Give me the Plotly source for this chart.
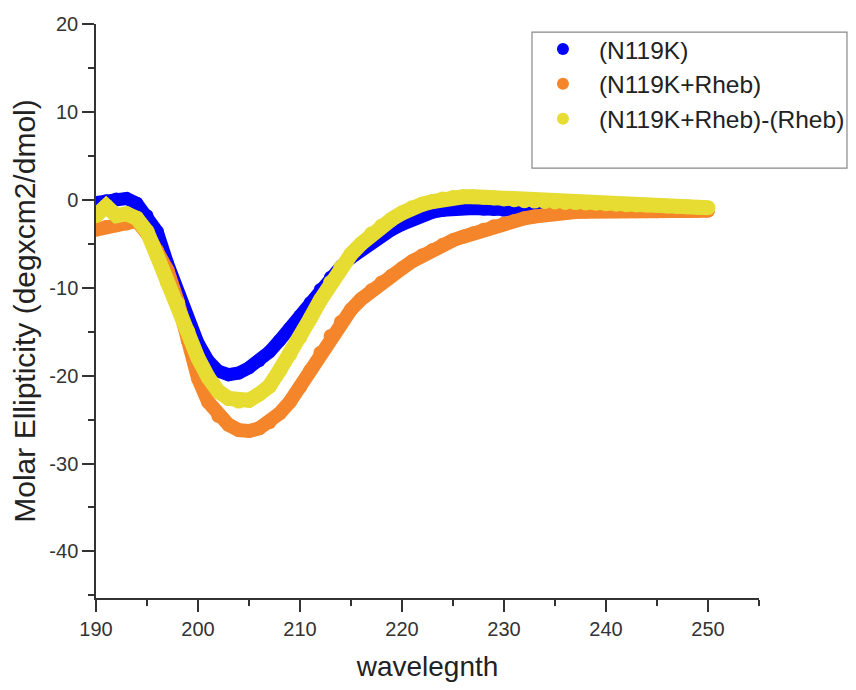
import plotly.graph_objects as go

wavelength = list(range(190, 251))

n119k = [-0.3, -0.1, 0.1, 0.15, -0.4, -1.8, -3.6, -7.2, -10.6, -13.6,
         -16.3, -18.3, -19.5, -19.9, -19.7, -19.1, -18.3, -17.3, -16.0, -14.6,
         -13.2, -11.7, -10.2, -8.8, -7.6, -6.6, -5.7, -4.8, -4.1, -3.4,
         -2.8, -2.2, -1.7, -1.4, -1.2, -1.05, -1.0, -1.0, -1.05, -1.1,
         -1.2, -1.25, -1.3, -1.3, -1.3, -1.3, -1.3, -1.25, -1.25, -1.2,
         -1.2, -1.2, -1.15, -1.15, -1.1, -1.1, -1.1, -1.05, -1.05, -1.0,
         -1.0]

n119k_rheb = [-3.4, -3.1, -2.9, -2.7, -2.4, -3.8, -5.8, -8.0, -11.5, -16.0,
              -20.3, -23.0, -24.6, -25.6, -26.2, -26.3, -26.0, -25.3, -24.3, -23.0,
              -21.3, -19.4, -17.4, -15.5, -13.9, -12.5, -11.3, -10.3, -9.4, -8.6,
              -7.8, -7.0, -6.3, -5.7, -5.1, -4.6, -4.2, -3.8, -3.4, -3.0,
              -2.7, -2.4, -2.1, -1.9, -1.7, -1.6, -1.5, -1.4, -1.35, -1.3,
              -1.3, -1.3, -1.3, -1.3, -1.3, -1.3, -1.28, -1.28, -1.26, -1.25,
              -1.25]

n119k_rheb_minus_rheb = [-1.8, -0.7, -1.8, -1.6, -2.1, -3.6, -6.4, -9.4, -11.8, -15.0,
                         -18.0, -20.2, -21.8, -22.6, -22.9, -22.8, -22.1, -21.2, -19.4, -17.6,
                         -15.6, -13.5, -11.4, -9.4, -7.7, -6.2, -5.0, -3.9, -3.0, -2.2,
                         -1.5, -0.9, -0.5, -0.2, 0.1, 0.25, 0.35, 0.35, 0.3, 0.2,
                         0.1, 0.0, -0.1, -0.15, -0.2, -0.25, -0.3, -0.32, -0.35, -0.4,
                         -0.45, -0.5, -0.55, -0.58, -0.6, -0.65, -0.7, -0.75, -0.8, -0.85,
                         -0.9]

series_names = ["(N119K)", "(N119K+Rheb)", "(N119K+Rheb)-(Rheb)"]
series_values = [n119k, n119k_rheb, n119k_rheb_minus_rheb]
series_colors = ["#0000FF", "#F5852A", "#E6DC32"]
series_widths = [13, 14, 15]

x_tickvals = [190, 200, 210, 220, 230, 240, 250]
y_tickvals = [-40, -30, -20, -10, 0, 10, 20]
y_ticktext = ["-40", "-30", "-20", "-10", "0", "10", "20"]

FONT = "Liberation Sans, Arial, sans-serif"
AXC = "#333333"

fig = go.Figure()
for name, vals, col, w in zip(series_names, series_values, series_colors, series_widths):
    fig.add_trace(go.Scatter(
        x=wavelength, y=vals, mode="lines+markers",
        line=dict(color=col, width=w),
        marker=dict(color=col, size=w, line=dict(width=0)),
        showlegend=False, hoverinfo="x+y", name=name))
for name, col in zip(series_names, series_colors):
    fig.add_trace(go.Scatter(
        x=[None], y=[None], mode="markers",
        marker=dict(color=col, size=13),
        name=name, showlegend=True))

fig.update_layout(
    width=840, height=674,
    margin=dict(l=88, r=89, t=16, b=84, autoexpand=False),
    paper_bgcolor="white", plot_bgcolor="white",
    font=dict(family=FONT, color=AXC),
    showlegend=True,
    legend=dict(x=0.650, y=0.9956, xanchor="left", yanchor="top",
                bgcolor="rgba(0,0,0,0)", borderwidth=0,
                font=dict(size=24.5, color="#222222", family=FONT),
                itemsizing="constant", itemwidth=62, tracegroupgap=0),
    shapes=[dict(type="rect", xref="paper", yref="paper",
                 x0=0.6576, x1=1.1327, y0=0.749, y1=0.986,
                 line=dict(color="#888888", width=1.2), fillcolor="rgba(0,0,0,0)")],
)

fig.update_xaxes(
    range=[190, 255], tickvals=x_tickvals, ticks="outside", ticklen=12, tickwidth=1.5,
    tickcolor=AXC, showline=True, linecolor=AXC, linewidth=1.5,
    showgrid=False, zeroline=False, mirror=False,
    minor=dict(ticks="outside", tick0=190, dtick=5, ticklen=6, tickwidth=1.5, tickcolor=AXC, showgrid=False),
    tickfont=dict(size=20, color=AXC, family=FONT),
    title=dict(text="wavelegnth", font=dict(size=28, color="#222222", family=FONT), standoff=20),
    automargin=False,
)
fig.update_yaxes(
    range=[-45.3, 20], tickvals=y_tickvals, ticktext=y_ticktext, ticks="outside", ticklen=12,
    tickwidth=1.5, tickcolor=AXC, showline=True, linecolor=AXC, linewidth=1.5,
    showgrid=False, zeroline=False, mirror=False,
    minor=dict(ticks="outside", tick0=0, dtick=5, ticklen=6, tickwidth=1.5, tickcolor=AXC, showgrid=False),
    tickfont=dict(size=20, color=AXC, family=FONT),
    title=dict(text="Molar Ellipticity (degxcm2/dmol)", font=dict(size=30, color="#222222", family=FONT), standoff=5),
    automargin=False,
)

fig.write_html("out.html")
